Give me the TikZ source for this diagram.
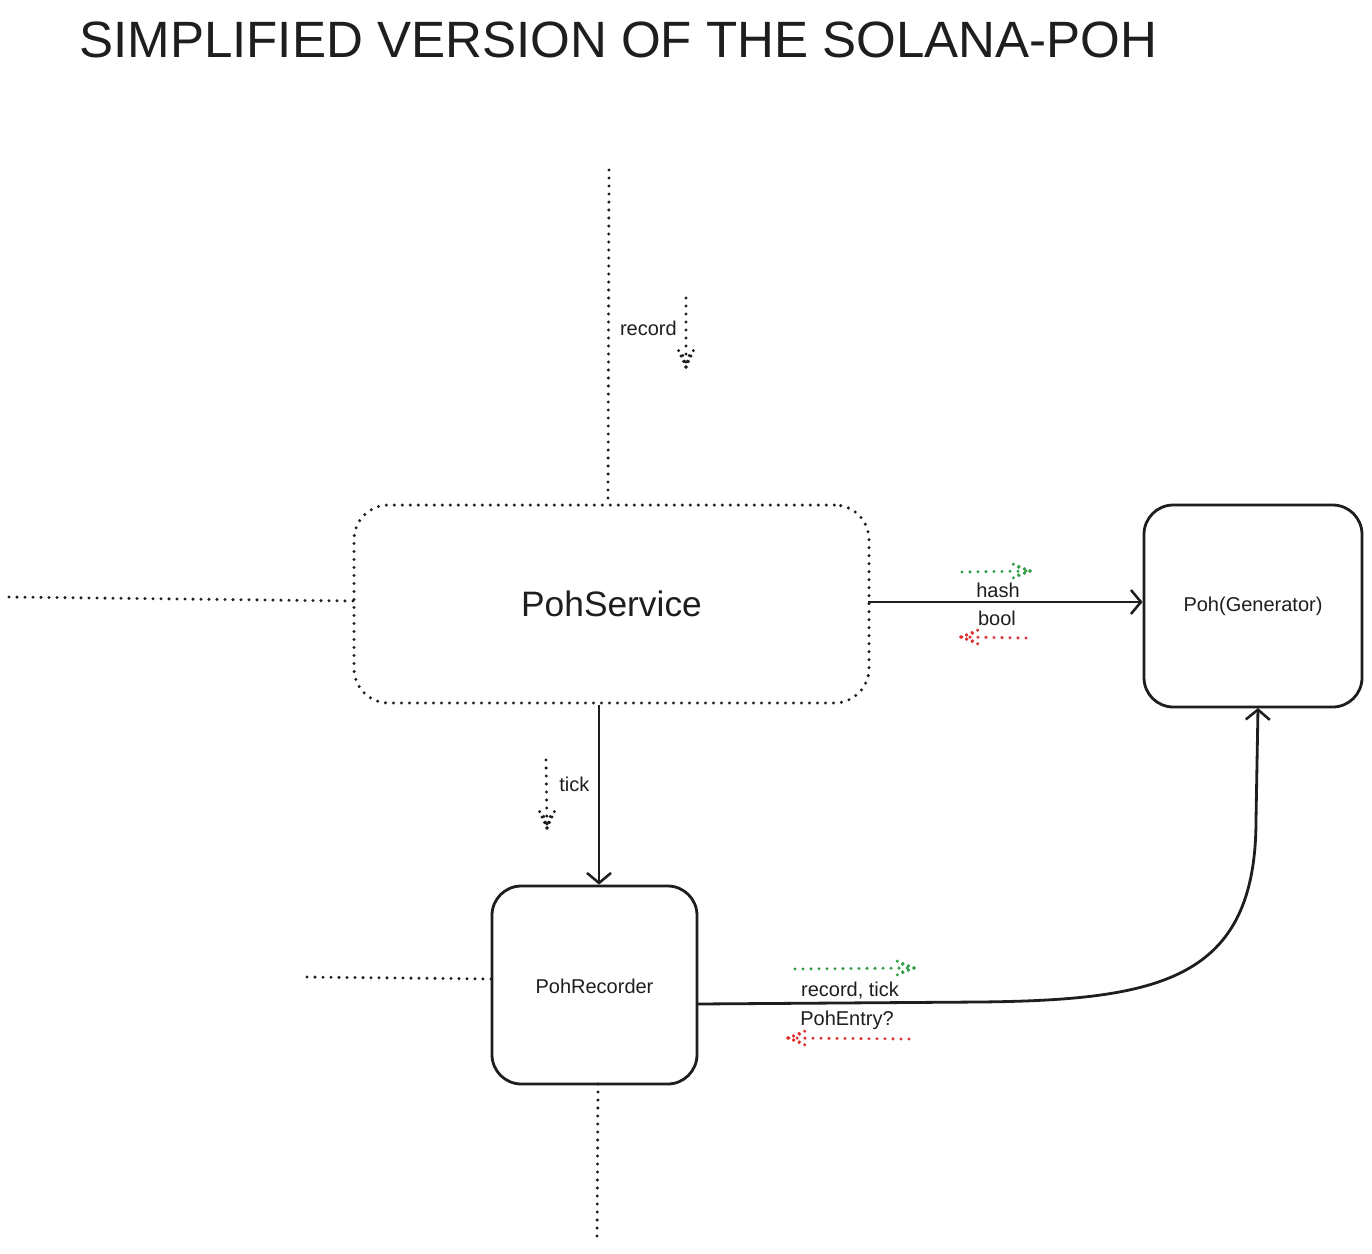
\documentclass[tikz,border=0pt]{standalone}
\usepackage{fontspec}
\setmainfont{Liberation Sans}
\usetikzlibrary{arrows.meta}
\definecolor{ink}{HTML}{1E1E1E}
\definecolor{grn}{HTML}{2F9E44}
\definecolor{rd}{HTML}{E03131}
\tikzset{
  dotline/.style={draw=ink, line width=2.5pt, line cap=round, dash pattern=on 0pt off 6pt},
  headdots/.style={draw=ink, line width=2.5pt, line cap=round, dash pattern=on 0pt off 4.5pt},
  solidline/.style={draw=ink, line width=2.1pt},
  headtip/.style={-{Straight Barb[length=7.5pt,width=18pt,line width=1.9pt]}},
  box/.style={draw=ink, line width=2.1pt, rounded corners=22pt, inner sep=0pt},
  lbl/.style={font=\fontsize{15}{18}\selectfont, text=ink, inner sep=0pt},
}
% dotted arrow heads: #1 colour, #2 tip coordinate
\newcommand{\dotheaddown}[2]{%
  \draw[headdots, draw=#1] (#2) -- ++(-9,-20);
  \draw[headdots, draw=#1] (#2) -- ++(9,-20);
  \draw[headdots, draw=#1] (#2) -- ++(-4,-14);
  \draw[headdots, draw=#1] (#2) -- ++(4,-14);
}
\newcommand{\dotheadright}[2]{%
  \draw[headdots, draw=#1] (#2) -- ++(-22,-9);
  \draw[headdots, draw=#1] (#2) -- ++(-22,9);
  \draw[headdots, draw=#1] (#2) -- ++(-12,-4);
  \draw[headdots, draw=#1] (#2) -- ++(-12,4);
}
\newcommand{\dotheadleft}[2]{%
  \draw[headdots, draw=#1] (#2) -- ++(22,-9);
  \draw[headdots, draw=#1] (#2) -- ++(22,9);
  \draw[headdots, draw=#1] (#2) -- ++(12,-4);
  \draw[headdots, draw=#1] (#2) -- ++(12,4);
}
\begin{document}
\begin{tikzpicture}[x=0.75pt,y=-0.75pt]
\useasboundingbox (0,0) rectangle (1372,1254);
\fill[white] (0,0) rectangle (1372,1254);

% title
\node[anchor=west, inner sep=0pt, text=ink, font=\fontsize{38.3}{44}\selectfont] (title) at (79,40) {SIMPLIFIED VERSION OF THE SOLANA-POH};

% boxes
\node[box, dotline, rounded corners=26pt, minimum width=515*0.75pt, minimum height=198*0.75pt] (svc) at (611.5,604) {};
\node[font=\fontsize{26.5}{30}\selectfont, text=ink, inner sep=0pt] (svct) at (611.5,604) {PohService};
\node[box, minimum width=218*0.75pt, minimum height=202*0.75pt] (gen) at (1253,606) {};
\node[lbl] (gent) at (1253,606) {Poh(Generator)};
\node[box, minimum width=205*0.75pt, minimum height=198*0.75pt] (rec) at (594.5,985) {};
\node[lbl] (rect) at (594.5,986) {PohRecorder};

% free ends
\coordinate (topend) at (609,170);
\coordinate (leftend) at (9,597);
\coordinate (recleft) at (307,977);
\coordinate (botend) at (597,1242);

% dotted context lines
\draw[dotline] (topend) -- (608,505);
\draw[dotline] (leftend) -- (354,601);
\draw[dotline] (recleft) -- (492,979);
\draw[dotline] (598,1084) -- (botend);

% solid connectors
\draw[solidline, headtip] (868,602) -- (gen.west |- 0,602);
\draw[solidline, headtip] (599,705) -- (rec.north -| 599,0);
\draw[solidline, headtip] (697,1004) -- (980,1002) .. controls (1160,1000) and (1256,980) .. (1256,820) -- (1258,708);

% small flow arrows
\coordinate (r1) at (686,298); \coordinate (r2) at (686,367);
\draw[dotline] (r1) -- (r2);
\dotheaddown{ink}{r2}
\node[lbl, anchor=east] (recordl) at (677,328) {record};

\coordinate (t1) at (546,760); \coordinate (t2) at (547,828);
\draw[dotline] (t1) -- (t2);
\dotheaddown{ink}{t2}
\node[lbl, anchor=west] (tickl) at (559,784) {tick};

\coordinate (h1) at (962,572); \coordinate (h2) at (1030,571);
\draw[dotline, draw=grn] (h1) -- (h2);
\dotheadright{grn}{h2}
\node[lbl] (hashl) at (998,590) {hash};

\coordinate (b1) at (1026,638); \coordinate (b2) at (961,637);
\draw[dotline, draw=rd] (b1) -- (b2);
\dotheadleft{rd}{b2}
\node[lbl] (booll) at (997,618) {bool};

\coordinate (g1) at (795,969); \coordinate (g2) at (914,968);
\draw[dotline, draw=grn] (g1) -- (g2);
\dotheadright{grn}{g2}
\node[lbl] (rtl) at (850,991) {record, tick};

\coordinate (p1) at (909,1039); \coordinate (p2) at (788,1038);
\draw[dotline, draw=rd] (p1) -- (p2);
\dotheadleft{rd}{p2}
\node[lbl] (pel) at (847,1020) {PohEntry?};
\end{tikzpicture}
\end{document}
